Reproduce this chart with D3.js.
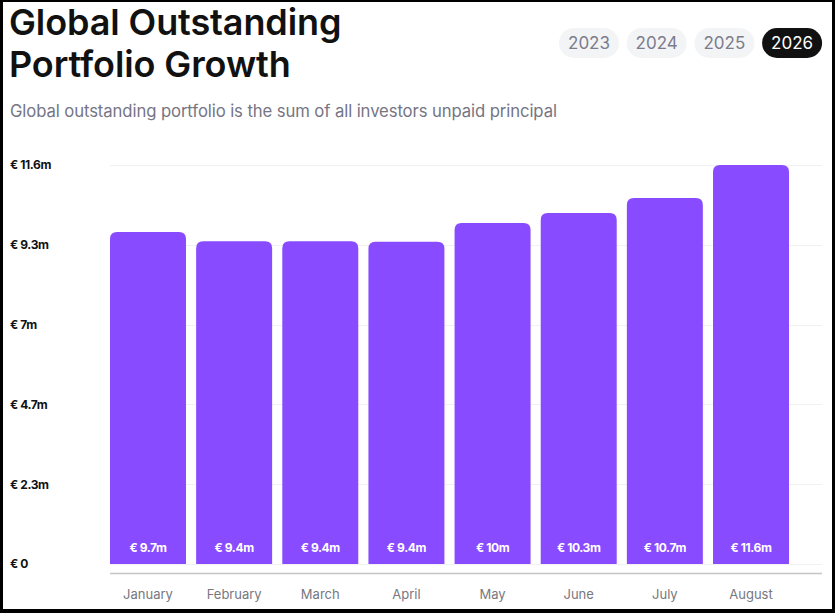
<!DOCTYPE html>
<html>
<head>
<meta charset="utf-8">
<script src="https://cdn.jsdelivr.net/npm/d3@7"></script>
<style>
  html, body { margin: 0; padding: 0; background: #000; }
  svg { display: block; }
  text { font-family: Inter, "Noto Sans", sans-serif; }
</style>
</head>
<body>
<svg id="chart" width="835" height="613"></svg>
<script>
// chart data
var months = ["January", "February", "March", "April", "May", "June", "July", "August"];
var values = [9.68, 9.41, 9.41, 9.39, 9.94, 10.23, 10.67, 11.63];
var valueLabels = ["€ 9.7m", "€ 9.4m", "€ 9.4m", "€ 9.4m", "€ 10m", "€ 10.3m", "€ 10.7m", "€ 11.6m"];
var tickLabels = ["€ 0", "€ 2.3m", "€ 4.7m", "€ 7m", "€ 9.3m", "€ 11.6m"];
var years = ["2023", "2024", "2025", "2026"];
var activeYear = "2026";

(function(d3) {

    var svg = d3.select("#chart");

    // white panel inside the black frame
    svg.append("rect")
        .attr("x", 3).attr("y", 2)
        .attr("width", 829).attr("height", 607)
        .attr("fill", "#fff");

    // title + subtitle
    var title = svg.append("text")
        .attr("x", 9)
        .attr("fill", "#111")
        .style("font-size", "36px")
        .style("font-weight", 600)
        .style("letter-spacing", "-0.1px");
    title.append("tspan").attr("x", 9).attr("y", 35).text("Global Outstanding");
    title.append("tspan").attr("x", 9).attr("y", 77).text("Portfolio Growth");

    svg.append("text")
        .attr("x", 10).attr("y", 117)
        .attr("fill", "#757584")
        .style("font-size", "16.7px")
        .style("letter-spacing", "-0.1px")
        .text("Global outstanding portfolio is the sum of all investors unpaid principal");

    // year pills
    var pills = svg.append("g").attr("class", "yearPills")
        .selectAll("g")
        .data(years)
        .enter()
        .append("g")
        .attr("transform", function(d, i) { return "translate(" + (559 + i * 67.7) + ",28)"; });

    pills.append("rect")
        .attr("width", 60).attr("height", 30)
        .attr("rx", 15)
        .attr("fill", function(d) { return d === activeYear ? "#111" : "#f3f4f6"; });

    pills.append("text")
        .attr("x", 30).attr("y", 15)
        .attr("dy", "0.36em")
        .attr("text-anchor", "middle")
        .attr("fill", function(d) { return d === activeYear ? "#fff" : "#7c7c8c"; })
        .style("font-size", "17px")
        .text(function(d) { return d; });

    // scales
    var maxVal = d3.max(values);
    var y = d3.scaleLinear().domain([0, maxVal]).range([564, 165]);
    var x = d3.scaleBand().domain(months).range([110, 789]).paddingInner(0.118).paddingOuter(0);

    var tickVals = d3.range(tickLabels.length).map(function(i) { return maxVal * i / (tickLabels.length - 1); });

    // grid lines
    svg.append("g").attr("class", "grid")
        .selectAll("line")
        .data(tickVals)
        .enter()
        .append("line")
        .attr("x1", 110).attr("x2", 822)
        .attr("y1", function(d) { return Math.round(y(d)) + 0.5; })
        .attr("y2", function(d) { return Math.round(y(d)) + 0.5; })
        .attr("stroke", "#f1f1f3")
        .attr("stroke-width", 1);

    // y tick labels
    svg.append("g").attr("class", "yLabels")
        .selectAll("text")
        .data(tickVals)
        .enter()
        .append("text")
        .attr("x", 10)
        .attr("y", function(d) { return y(d); })
        .attr("dy", "0.36em")
        .attr("fill", "#111")
        .style("font-size", "12px")
        .style("font-weight", 700)
        .style("letter-spacing", "-0.4px")
        .text(function(d, i) { return tickLabels[i]; });

    // bars with rounded top corners
    var r = 7;
    svg.append("g").attr("class", "bars")
        .selectAll("path")
        .data(values)
        .enter()
        .append("path")
        .attr("d", function(d, i) {
            var x0 = x(months[i]), x1 = x0 + x.bandwidth();
            var y0 = y(0), y1 = y(d);
            return "M" + x0 + "," + y0 +
                "V" + (y1 + r) +
                "Q" + x0 + "," + y1 + " " + (x0 + r) + "," + y1 +
                "H" + (x1 - r) +
                "Q" + x1 + "," + y1 + " " + x1 + "," + (y1 + r) +
                "V" + y0 + "Z";
        })
        .attr("fill", "#894bff");

    // value labels inside bars
    svg.append("g").attr("class", "valueLabels")
        .selectAll("text")
        .data(values)
        .enter()
        .append("text")
        .attr("x", function(d, i) { return x(months[i]) + x.bandwidth() / 2; })
        .attr("y", y(0) - 16)
        .attr("dy", "0.36em")
        .attr("text-anchor", "middle")
        .attr("fill", "#fff")
        .style("font-size", "12px")
        .style("font-weight", 700)
        .style("letter-spacing", "-0.4px")
        .text(function(d, i) { return valueLabels[i]; });

    // x axis baseline
    svg.append("line")
        .attr("x1", 110).attr("x2", 822)
        .attr("y1", 573.5).attr("y2", 573.5)
        .attr("stroke", "#c4c4c4")
        .attr("stroke-width", 1.5);

    // month labels
    svg.append("g").attr("class", "xLabels")
        .selectAll("text")
        .data(months)
        .enter()
        .append("text")
        .attr("x", function(d) { return x(d) + x.bandwidth() / 2; })
        .attr("y", 594)
        .attr("dy", "0.36em")
        .attr("text-anchor", "middle")
        .attr("fill", "#777780")
        .style("font-size", "13px")
        .text(function(d) { return d; });

})(d3);
</script>
</body>
</html>
